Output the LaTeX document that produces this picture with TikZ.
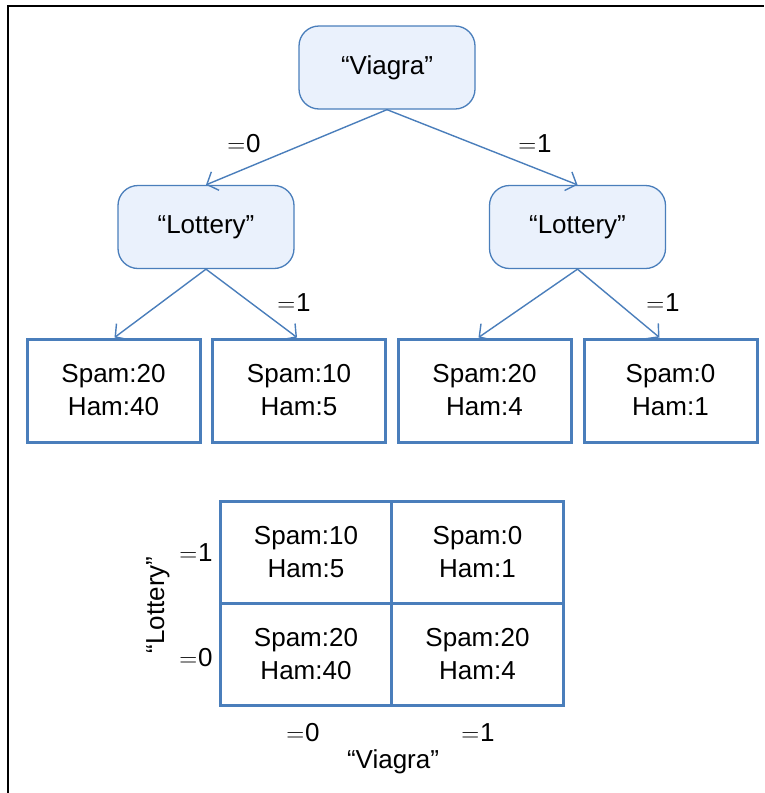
\documentclass[tikz,border=0pt]{standalone}
\usepackage{fontspec}
\setmainfont{Liberation Sans}
\usetikzlibrary{arrows.meta}
\definecolor{edgeblue}{HTML}{4A7EBB}
\definecolor{nodefill}{HTML}{EAF1FC}
\newcommand{\eqsign}{\ensuremath{=}\kern1pt}
\begin{document}
\begin{tikzpicture}[x=1pt,y=-1pt,
  every node/.style={font=\fontsize{26}{33}\selectfont, inner sep=0pt, align=center},
  decision/.style={draw=edgeblue, fill=nodefill, line width=1.3pt, rounded corners=20pt, minimum width=176pt, minimum height=83pt},
  leaf/.style={draw=edgeblue, line width=3pt, minimum width=173pt, minimum height=103pt},
  cellbox/.style={draw=edgeblue, line width=3pt, minimum width=171.5pt, minimum height=102pt},
  branch/.style={draw=edgeblue, line width=1.4pt, -{Straight Barb[length=9pt,width=20pt,line width=1.4pt]}},
  lbl/.style={}
]
\useasboundingbox (0,0) rectangle (764,793);
\draw[line width=2pt] (8,793) -- (8,6) -- (764,6);

% tree
\node[decision] (V) at (387,67.5) {“Viagra”};
\node[decision] (L1) at (206,227) {“Lottery”};
\node[decision] (L2) at (577.5,227) {“Lottery”};
\node[leaf] (B1) at (113.5,390.5) {Spam:20\\Ham:40};
\node[leaf] (B2) at (299,390.5) {Spam:10\\Ham:5};
\node[leaf] (B3) at (484.5,390.5) {Spam:20\\Ham:4};
\node[leaf] (B4) at (670.5,390.5) {Spam:0\\Ham:1};

\draw[branch] (V.south) -- (L1.north);
\draw[branch] (V.south) -- (L2.north);
\draw[branch] (L1.south) -- ([xshift=1pt]B1.north);
\draw[branch] (L1.south) -- ([xshift=-2pt]B2.north);
\draw[branch] (L2.south) -- ([xshift=-6pt]B3.north);
\draw[branch] (L2.south) -- ([xshift=-11pt]B4.north);

\node[lbl] (e1) at (244,144) {\eqsign0};
\node[lbl] (e2) at (535,144) {\eqsign1};
\node[lbl] (e3) at (294,303) {\eqsign1};
\node[lbl] (e4) at (663,303) {\eqsign1};

% table
\node[cellbox] (c11) at (306,552.5) {Spam:10\\Ham:5};
\node[cellbox] (c12) at (477.5,552.5) {Spam:0\\Ham:1};
\node[cellbox] (c21) at (306,654.5) {Spam:20\\Ham:40};
\node[cellbox] (c22) at (477.5,654.5) {Spam:20\\Ham:4};

\node[lbl] (r1) at (196,553) {\eqsign1};
\node[lbl] (r0) at (196,658) {\eqsign0};
\node[lbl, rotate=90] (ly) at (158,605) {“Lottery”};
\node[lbl] (k0) at (303,733) {\eqsign0};
\node[lbl] (k1) at (478,733) {\eqsign1};
\node[lbl] (vx) at (393,762) {“Viagra”};
\end{tikzpicture}
\end{document}
